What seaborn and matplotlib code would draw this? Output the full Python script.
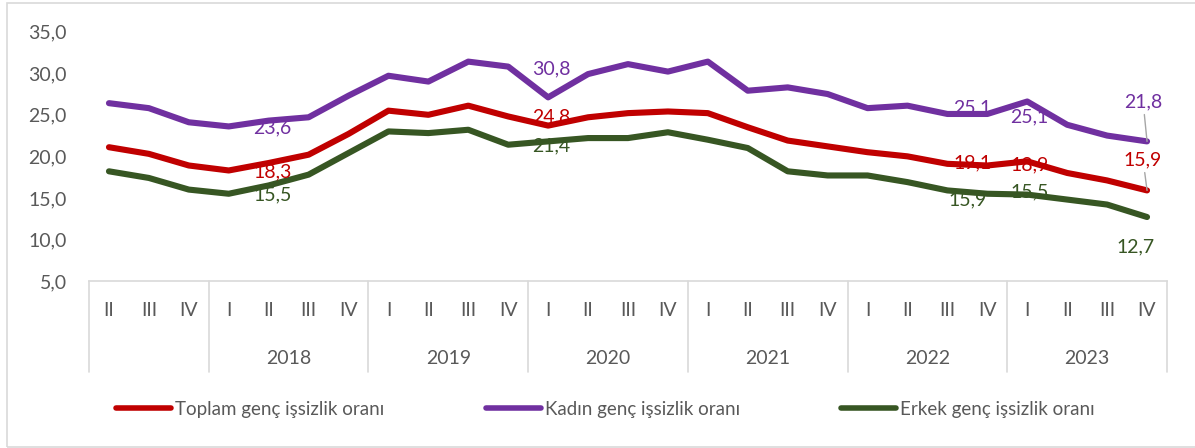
import matplotlib
matplotlib.use("Agg")
import matplotlib.pyplot as plt
import matplotlib.patches as mpatches
from matplotlib.ticker import FuncFormatter
import seaborn as sns
import pandas as pd

# ---------------- data ----------------
quarters = ["II", "III", "IV",
            "I", "II", "III", "IV",
            "I", "II", "III", "IV",
            "I", "II", "III", "IV",
            "I", "II", "III", "IV",
            "I", "II", "III", "IV",
            "I", "II", "III", "IV"]
years = ["2017", "2017", "2017",
         "2018", "2018", "2018", "2018",
         "2019", "2019", "2019", "2019",
         "2020", "2020", "2020", "2020",
         "2021", "2021", "2021", "2021",
         "2022", "2022", "2022", "2022",
         "2023", "2023", "2023", "2023"]
year_labels = {"2017": "", "2018": "2018", "2019": "2019", "2020": "2020",
               "2021": "2021", "2022": "2022", "2023": "2023"}

toplam = [21.1, 20.3, 18.9, 18.3, 19.2, 20.2, 22.7, 25.5, 25.0, 26.1, 24.8, 23.7, 24.7, 25.2,
          25.4, 25.2, 23.5, 21.9, 21.2, 20.5, 20.0, 19.1, 18.9, 19.4, 18.0, 17.1, 15.9]
kadin = [26.4, 25.8, 24.1, 23.6, 24.3, 24.7, 27.3, 29.7, 29.0, 31.4, 30.8, 27.1, 29.9, 31.1,
         30.2, 31.4, 27.9, 28.3, 27.5, 25.8, 26.1, 25.1, 25.1, 26.6, 23.8, 22.5, 21.8]
erkek = [18.2, 17.4, 16.0, 15.5, 16.5, 17.8, 20.4, 23.0, 22.8, 23.2, 21.4, 21.8, 22.2, 22.2,
         22.9, 22.0, 21.0, 18.2, 17.7, 17.7, 16.9, 15.9, 15.5, 15.4, 14.8, 14.2, 12.7]

series_names = ["Toplam genç işsizlik oranı", "Kadın genç işsizlik oranı", "Erkek genç işsizlik oranı"]
series_values = [toplam, kadin, erkek]
labeled_points = [3, 10, 21, 22, 26]

# ---------------- style ----------------
colors = ["#C00000", "#7030A0", "#375623"]
text_gray = "#595959"
grid_gray = "#D9D9D9"
FS = 14
FS_LEG = 13.5

sns.set_theme(style="white")
plt.rcParams["font.family"] = ["Lato", "DejaVu Sans"]

rows = []
for name, vals in zip(series_names, series_values):
    for i, v in enumerate(vals):
        rows.append({"idx": i, "value": v, "series": name})
df = pd.DataFrame(rows)

fig = plt.figure(figsize=(11.95, 4.48), dpi=100)
W, H = 1195, 448
ax_left, ax_right = 89 / W, 1167 / W
ax_bottom, ax_top = (H - 281) / H, (H - 31.7) / H
ax = fig.add_axes([ax_left, ax_bottom, ax_right - ax_left, ax_top - ax_bottom])

sns.lineplot(data=df, x="idx", y="value", hue="series", hue_order=series_names,
             palette=colors, linewidth=4.4, ax=ax, legend=True,
             solid_capstyle="round", solid_joinstyle="round")
handles, labels = ax.get_legend_handles_labels()
ax.get_legend().remove()

n = len(quarters)
ax.set_xlim(-0.5, n - 0.5)
ax.set_ylim(5, 35)
ax.set_yticks([5, 10, 15, 20, 25, 30, 35])
ax.yaxis.set_major_formatter(FuncFormatter(lambda v, p: f"{v:.1f}".replace(".", ",")))
ax.set_xticks(range(n))
ax.set_xticklabels(quarters)
ax.tick_params(axis="y", length=0, pad=16, labelsize=FS, labelcolor=text_gray)
ax.tick_params(axis="x", length=0, pad=15, labelsize=FS, labelcolor=text_gray)
ax.set_xlabel("")
ax.set_ylabel("")
for s in ["left", "right", "top"]:
    ax.spines[s].set_visible(False)
ax.spines["bottom"].set_color(grid_gray)
ax.spines["bottom"].set_linewidth(1.2)
ax.grid(False)

# multi-level category axis: year groups
xt = ax.get_xaxis_transform()
plot_h = 281 - 31.7
sep_depth = -(372 - 281) / plot_h
year_y = -(358 - 281) / plot_h
groups = []
for i, y in enumerate(years):
    if not groups or groups[-1][0] != y:
        groups.append([y, i, i])
    else:
        groups[-1][2] = i
bounds = sorted({g[1] - 0.5 for g in groups} | {groups[-1][2] + 0.5})
for b in bounds:
    ax.plot([b, b], [0, sep_depth], transform=xt, clip_on=False, color=grid_gray, lw=1.2)
for y, s, e in groups:
    ax.text((s + e) / 2, year_y, year_labels[y], transform=xt, ha="center", va="center",
            fontsize=FS, color=text_gray)

# data labels (offsets in pixels, up positive); series index 0=Toplam, 1=Kadın, 2=Erkek
offsets = {
    (0, 3): (44, -1), (1, 3): (44, -1), (2, 3): (44, -1),
    (0, 10): (43, 0), (1, 10): (43, -2), (2, 10): (43, -1),
    (0, 21): (25, 1), (1, 21): (25, 6), (2, 21): (20, -9),
    (0, 22): (42, 1), (1, 22): (42, -3), (2, 22): (42, 2),
    (0, 26): (-4, 31), (1, 26): (-4, 40), (2, 26): (-12, -30),
}
leaders = {(0, 26), (1, 26)}
for si, vals in enumerate(series_values):
    for i in labeled_points:
        dx, dy = offsets[(si, i)]
        kw = {}
        if (si, i) in leaders:
            kw["arrowprops"] = dict(arrowstyle="-", color="#A6A6A6", lw=1.0,
                                    shrinkA=1, shrinkB=0)
        ax.annotate(f"{vals[i]:.1f}".replace(".", ","), xy=(i, vals[i]),
                    xytext=(dx, dy), textcoords="offset pixels",
                    ha="center", va="center", fontsize=FS, color=colors[si], **kw)

# legend
fig.legend(handles, labels, loc="center", bbox_to_anchor=(0.5067, (H - 409) / H),
           ncol=3, frameon=False, fontsize=FS_LEG, handlelength=2.95, handletextpad=0.2,
           columnspacing=5.4, labelcolor=text_gray)
for h in fig.legends[0].get_lines():
    h.set_linewidth(4.0)
    h.set_solid_capstyle("round")

# chart border
fig.patches.append(mpatches.Rectangle((7 / W, 1.5 / H), 1.2, (H - 4.5) / H,
                                      transform=fig.transFigure, fill=False,
                                      edgecolor=grid_gray, lw=1.2))

fig.savefig("out.png", dpi=100)
